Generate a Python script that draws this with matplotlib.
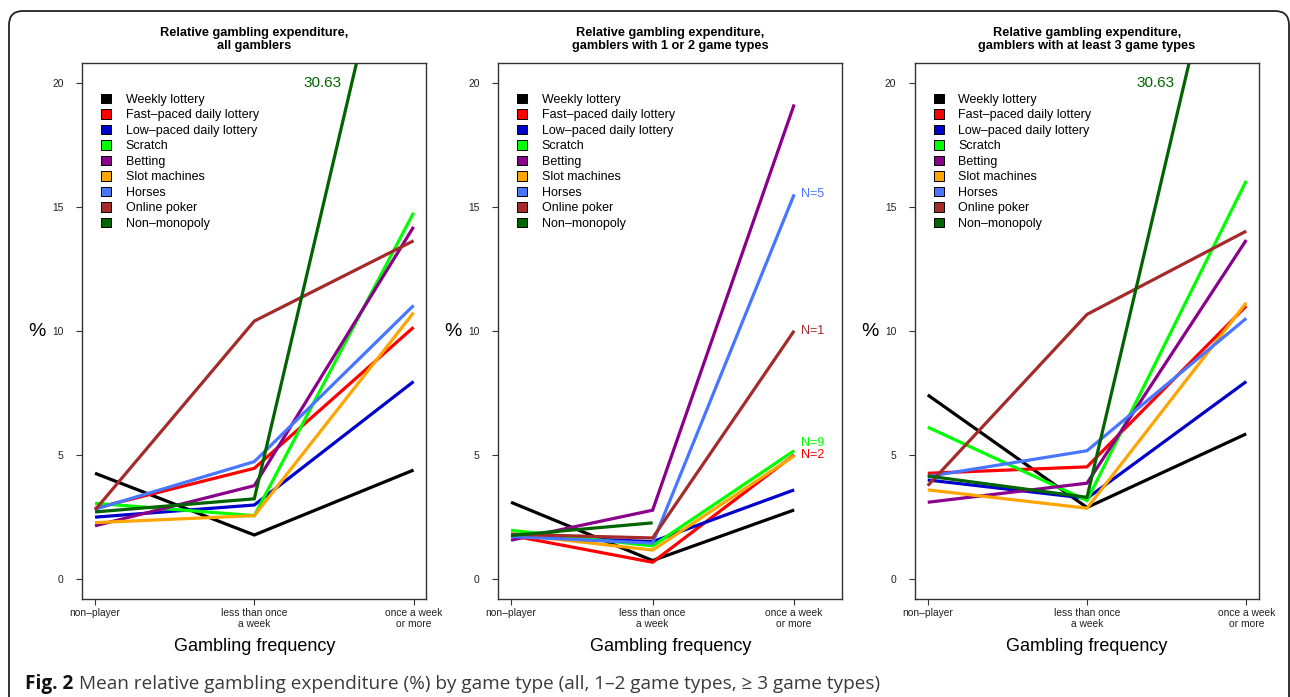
import matplotlib
matplotlib.use("Agg")
import matplotlib.pyplot as plt
import numpy as np
from matplotlib.patches import Patch, FancyBboxPatch

plt.rcParams["font.family"] = ["Liberation Sans", "DejaVu Sans"]

#---------------------------#
# Data
#---------------------------#
freq_labels = ["non\u2013player", "less than once\na week", "once a week\nor more"]

game_types = ["Weekly lottery", "Fast\u2013paced daily lottery", "Low\u2013paced daily lottery",
              "Scratch", "Betting", "Slot machines", "Horses", "Online poker", "Non\u2013monopoly"]
game_colors = ["#000000", "#FF0000", "#0000CD", "#00FF00", "#8B008B",
               "#FFA500", "#4876FF", "#A52A2A", "#006400"]

panel_titles = ["Relative gambling expenditure,\nall gamblers",
                "Relative gambling expenditure,\ngamblers with 1 or 2 game types",
                "Relative gambling expenditure,\ngamblers with at least 3 game types"]

# mean relative expenditure (%), one row per game type
all_gamblers = [
    [4.26, 1.77, 4.39],
    [2.85, 4.46, 10.15],
    [2.49, 2.98, 7.96],
    [3.05, 2.55, 14.77],
    [2.14, 3.76, 14.20],
    [2.27, 2.55, 10.74],
    [2.81, 4.73, 11.03],
    [2.78, 10.40, 13.64],
    [2.70, 3.23, 30.63],
]

one_two_types = [
    [3.09, 0.74, 2.78],
    [1.75, 0.67, 5.00],
    [1.75, 1.50, 3.59],
    [1.96, 1.33, 5.17],
    [1.56, 2.77, 19.14],
    [1.81, 1.16, 4.96],
    [1.71, 1.44, 15.51],
    [1.80, 1.65, 10.01],
    [1.75, 2.26, np.nan],
]

three_plus_types = [
    [7.42, 2.88, 5.85],
    [4.26, 4.52, 11.01],
    [3.99, 3.25, 7.96],
    [6.12, 3.16, 16.06],
    [3.09, 3.86, 13.67],
    [3.59, 2.85, 11.14],
    [4.13, 5.17, 10.51],
    [3.76, 10.67, 14.03],
    [4.15, 3.29, 30.63],
]

# small N notes in the middle panel: (text, game index, label y)
n_notes = [("N=5", 6, 15.51), ("N=1", 7, 10.01), ("N=9", 3, 5.50), ("N=2", 1, 5.00)]

# x range per panel (middle one leaves room for the N notes)
x_max = [3.0, 3.25, 3.0]

caption_bold = "Fig. 2"
caption_text = "Mean relative gambling expenditure (%) by game type (all, 1\u20132 game types, \u2265 3 game types)"

#---------------------------#
# Figure
#---------------------------#
W, H = 1290, 697
fig = plt.figure(figsize=(W / 100, H / 100), dpi=100)

# rounded frame around the figure
frame = FancyBboxPatch((19, -40), 1260, 716, boxstyle="round,pad=10,rounding_size=14",
                       transform=None, fill=False, edgecolor="#222222", linewidth=1.3)
fig.patches.append(frame)

panel_left = [82.3, 498.3, 915.0]
box_w, box_top, box_bot = 344.0, 63.3, 598.7
panels = [all_gamblers, one_two_types, three_plus_types]
x = np.arange(1, 4)

for p, (data, title, left) in enumerate(zip(panels, panel_titles, panel_left)):
    ax = fig.add_axes([left / W, 1 - box_bot / H, box_w / W, (box_bot - box_top) / H])
    vals = np.array(data, dtype=float)

    for i, row in enumerate(vals):
        ax.plot(x, row, color=game_colors[i], lw=2.3, solid_capstyle="butt",
                solid_joinstyle="miter")

    span = x_max[p] - 1
    ax.set_xlim(1 - 0.04 * span, x_max[p] + 0.04 * span)
    ax.set_ylim(-0.8, 20.8)
    ax.set_xticks(x)
    ax.set_xticklabels(freq_labels, linespacing=1.2)
    ax.set_yticks([0, 5, 10, 15, 20])
    ax.tick_params(axis="both", length=4.5, width=0.8, color="#333333",
                   labelsize=7.4, labelcolor="#222222")
    ax.tick_params(axis="y", pad=9)
    ax.tick_params(axis="x", pad=2)
    for s in ax.spines.values():
        s.set_color("#333333")
        s.set_linewidth(1.0)

    ax.set_title(title, fontsize=9.2, fontweight="bold", pad=10, linespacing=1.15)
    ax.set_xlabel("Gambling frequency", fontsize=13, labelpad=6)
    ax.set_ylabel("%", fontsize=14, rotation=0, labelpad=11, va="center")

    handles = [Patch(facecolor=c, edgecolor="black", linewidth=0.7) for c in game_colors]
    ax.legend(handles, game_types, loc="upper left", bbox_to_anchor=(0.055, 0.943),
              frameon=False, fontsize=9, handlelength=0.8, handleheight=0.8,
              handletextpad=1.15, labelspacing=0.27, borderaxespad=0, borderpad=0)

    # value of the off-scale non-monopoly line
    nm = vals[8]
    if nm[2] > 20.8:
        xc = x[1] + (20 - nm[1]) / (nm[2] - nm[1])
        ax.annotate(f"{nm[2]:.2f}", xy=(xc, 20), xytext=(-7, 0), textcoords="offset points",
                    ha="right", va="center", fontsize=11, color=game_colors[8])

    if p == 1:
        for txt, gi, ly in n_notes:
            ax.annotate(txt, xy=(x[2], ly), xytext=(5, 0), textcoords="offset points",
                        ha="left", va="center", fontsize=9, color=game_colors[gi])

# caption
t1 = fig.text(25 / W, 1 - 684 / H, caption_bold, fontsize=13.7, fontweight="bold",
              family=["Open Sans", "DejaVu Sans"], color="#111111", va="center")
fig.canvas.draw()
bb = t1.get_window_extent()
fig.text((bb.x1 + 6) / W, 1 - 684 / H, caption_text, fontsize=13.7,
         family=["Open Sans", "DejaVu Sans"], color="#3a3a3a", va="center")

fig.savefig("out.png", dpi=100)
